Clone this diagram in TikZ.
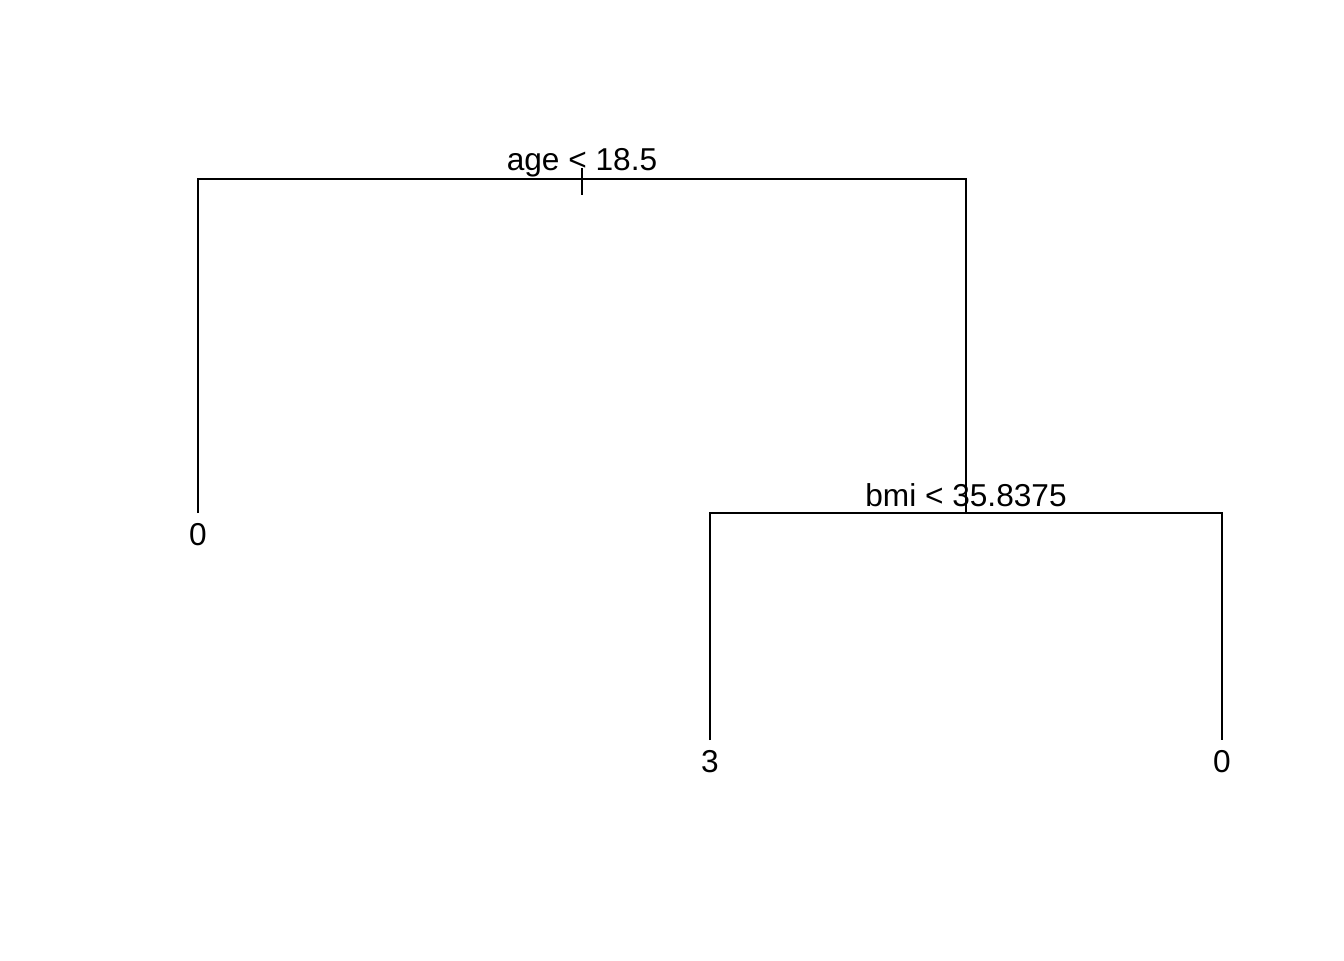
\documentclass[tikz,border=0pt]{standalone}
\usepackage{fontspec}
\setmainfont{Liberation Sans}
\usepackage{tikz}

\begin{document}
\begin{tikzpicture}[line width=0.55pt,
    leaf/.style={anchor=north, inner sep=0pt, outer sep=2.9pt, font=\fontsize{9}{10}\selectfont},
    rule/.style={anchor=base, inner sep=0pt, font=\fontsize{9}{10}\selectfont}]
            \useasboundingbox (0,0) rectangle (13.44,9.6);
            \coordinate (s1) at (5.82,7.81);
            \coordinate (s2) at (9.66,4.47);
            \node[rule] (q1) at (5.82,7.90) {age < 18.5};
            \node[rule] (q2) at (9.66,4.54) {bmi < 35.8375};
            \node[leaf] (l1) at (1.98,4.47) {0};
            \node[leaf] (l2) at (7.10,2.20) {3};
            \node[leaf] (l3) at (12.22,2.20) {0};
            \draw (l1.north) |- (s1) -| (s2);
            \draw ([yshift=0.11cm]s1) -- ++(0,-0.27);
            \draw (l2.north) |- (s2) -| (l3.north);
        \end{tikzpicture}
\end{document}
